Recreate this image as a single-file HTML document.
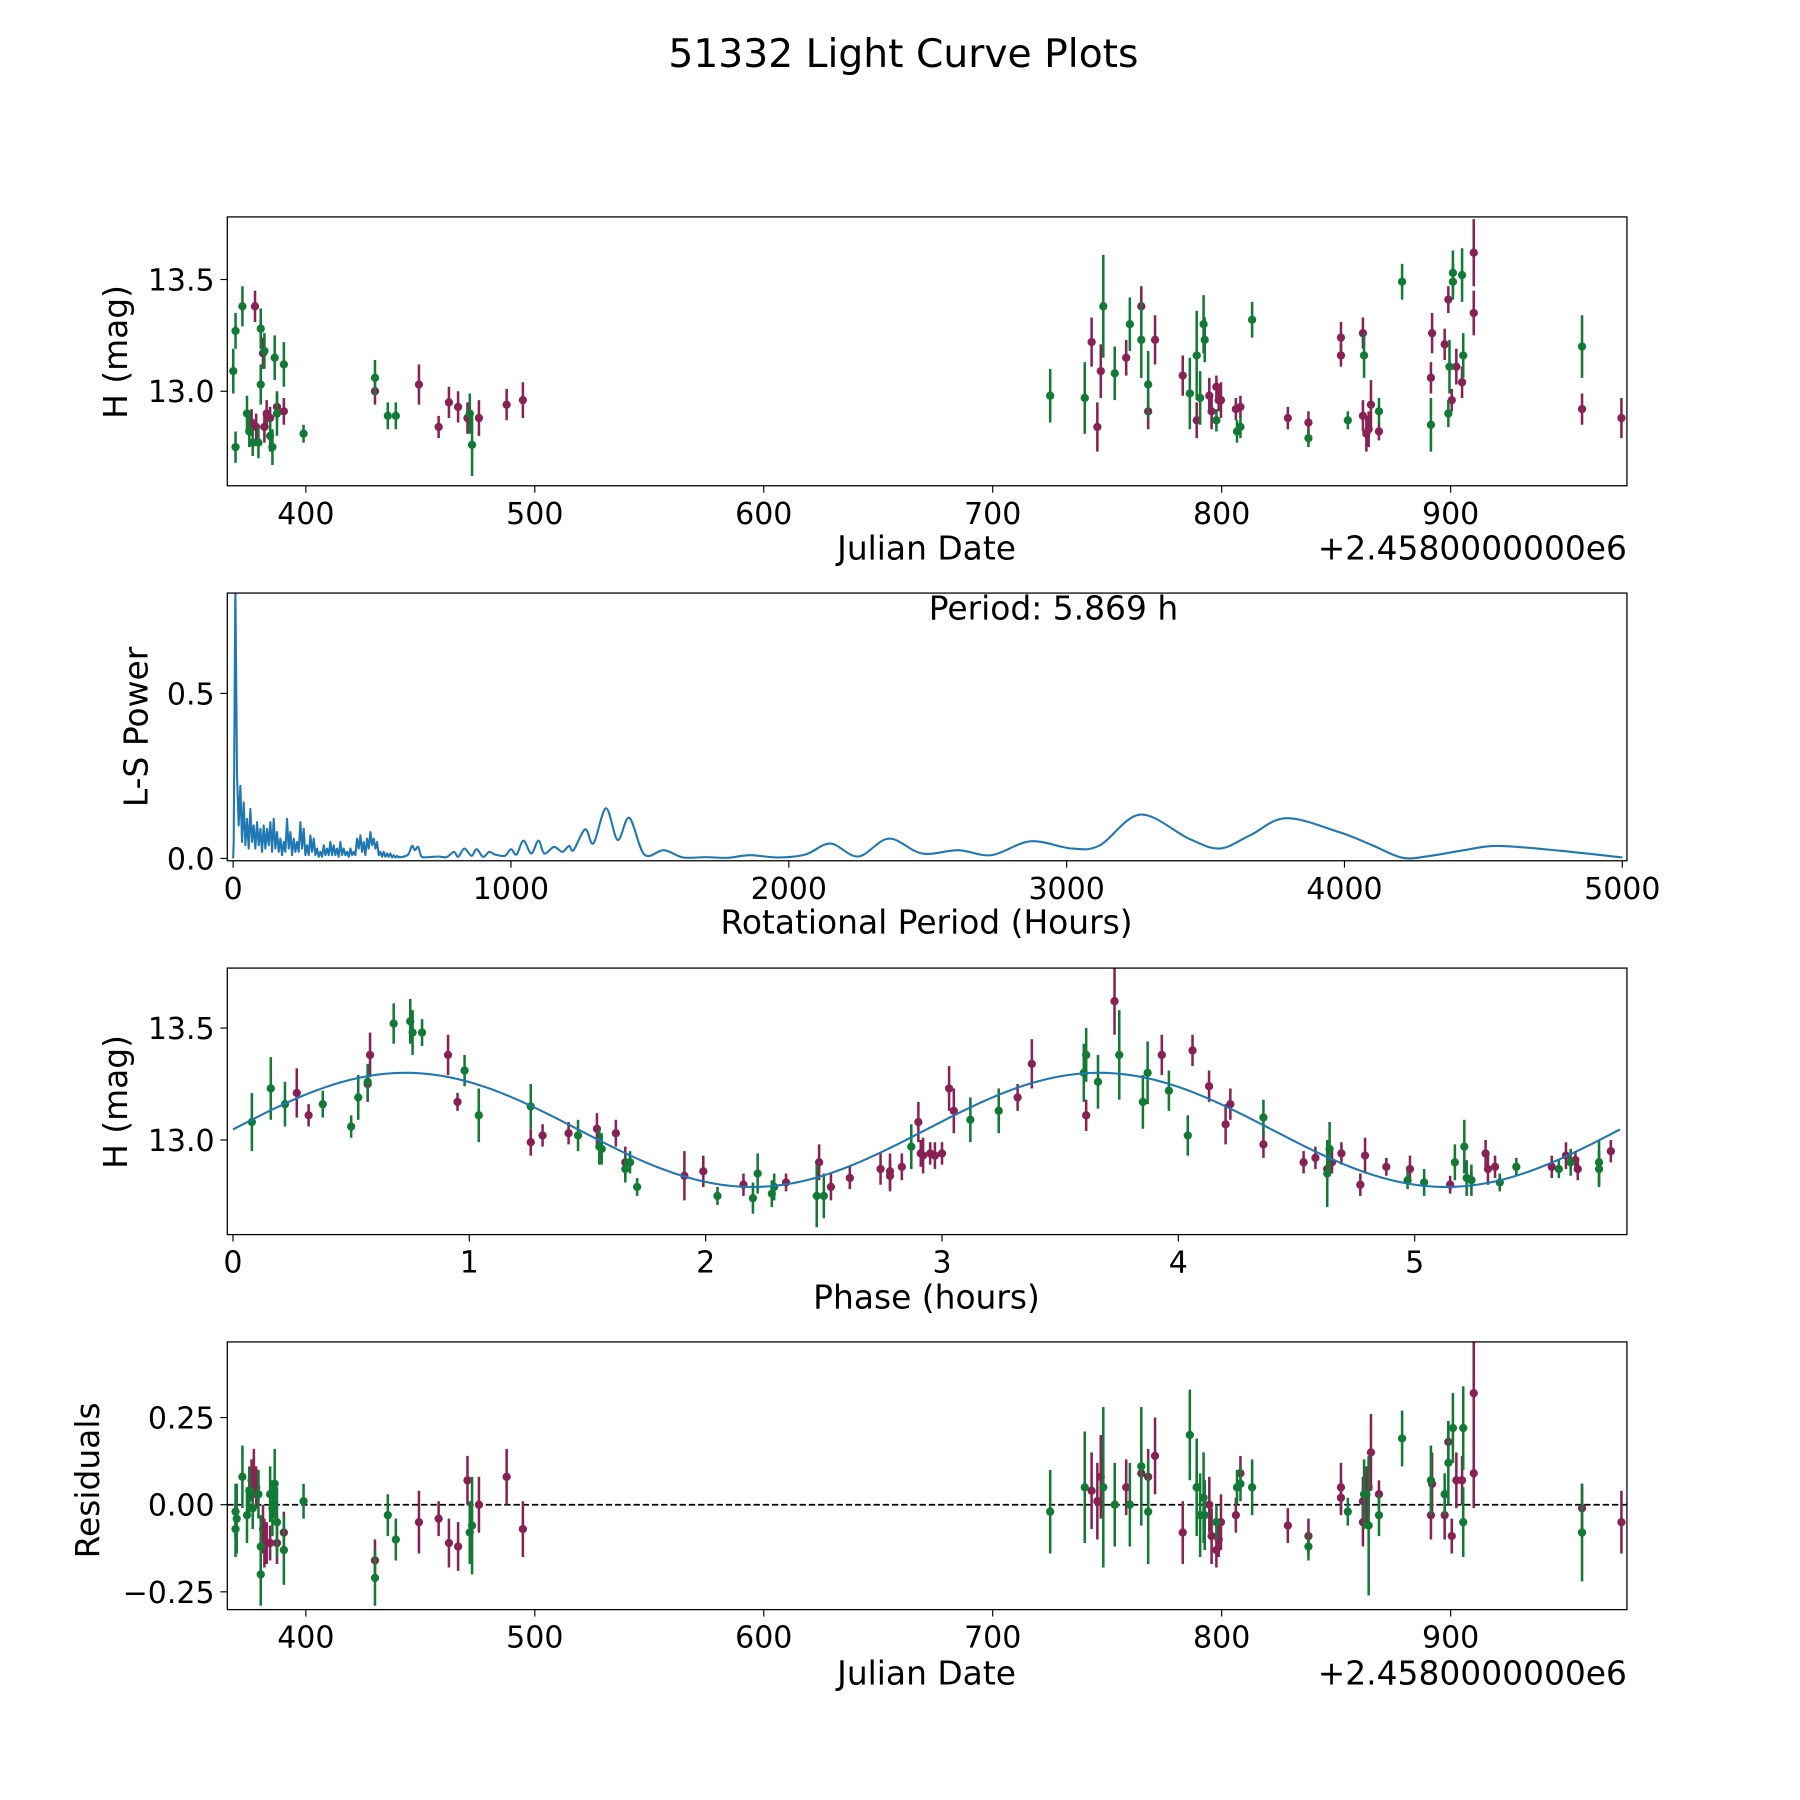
<!DOCTYPE html>
<html><head><meta charset="utf-8"><style>
html,body{margin:0;padding:0;background:#fff}
svg{display:block;font-family:"DejaVu Sans","Liberation Sans",sans-serif}
</style></head><body>
<svg id="fig" width="1800" height="1800" viewBox="0 0 1560 1560" xmlns="http://www.w3.org/2000/svg">
<rect width="1560" height="1560" fill="#fff"/>
<text x="783" y="58" font-size="34" text-anchor="middle">51332 Light Curve Plots</text>
</svg>
<script>
// ---------- Panel 1: light curve (date, mag, err) ----------
const lcGreen=[[369.3,12.75,0.07],[369.3,13.27,0.08],[368.3,13.09,0.1],[372.3,13.38,0.09],[374.3,12.90,0.08],[375.3,12.82,0.07],[376.8,12.77,0.06],[379.3,12.77,0.07],[380.3,13.28,0.09],[380.3,13.03,0.09],[381.9,13.18,0.08],[384.4,12.80,0.07],[385.4,12.75,0.08],[386.4,13.15,0.1],[387.4,12.90,0.1],[390.4,13.12,0.1],[399.0,12.81,0.04],[430.2,13.06,0.08],[435.8,12.89,0.06],[439.3,12.89,0.06],[471.6,12.90,0.09],[472.6,12.76,0.14],[725.1,12.98,0.12],[740.2,12.97,0.16],[748.3,13.38,0.23],[753.3,13.08,0.12],[759.9,13.30,0.12],[764.9,13.23,0.17],[767.9,13.03,0.15],[786.1,12.99,0.16],[789.1,13.16,0.2],[790.6,12.97,0.12],[792.1,13.30,0.13],[792.6,13.23,0.1],[797.7,12.87,0.05],[806.7,12.82,0.05],[808.2,12.84,0.05],[813.3,13.32,0.08],[837.9,12.79,0.04],[855.1,12.87,0.04],[862.2,13.16,0.1],[868.7,12.91,0.06],[878.8,13.49,0.08],[891.4,12.85,0.12],[899.0,12.90,0.06],[899.5,13.11,0.12],[901.0,13.49,0.08],[901.0,13.53,0.1],[905.5,13.16,0.1],[905.0,13.52,0.12],[957.4,13.20,0.14]];
const lcMag=[[376.3,12.86,0.06],[377.8,13.38,0.07],[378.3,12.84,0.06],[381.3,13.17,0.07],[381.9,12.84,0.07],[382.9,12.90,0.06],[384.4,12.88,0.05],[387.4,12.93,0.06],[390.4,12.91,0.06],[430.2,13.00,0.06],[449.4,13.03,0.09],[458.0,12.84,0.05],[462.5,12.95,0.07],[466.5,12.93,0.07],[470.6,12.88,0.07],[475.6,12.88,0.08],[487.7,12.94,0.07],[494.8,12.96,0.08],[743.2,13.22,0.11],[745.7,12.84,0.11],[747.2,13.09,0.12],[758.3,13.15,0.08],[764.9,13.38,0.09],[767.9,12.91,0.08],[770.9,13.23,0.11],[783.0,13.07,0.09],[789.1,12.87,0.08],[794.6,12.98,0.08],[795.6,12.91,0.08],[797.7,13.02,0.05],[798.7,12.96,0.05],[799.7,12.96,0.08],[806.2,12.92,0.05],[808.2,12.93,0.05],[828.9,12.88,0.05],[837.9,12.86,0.05],[852.1,13.24,0.07],[852.1,13.16,0.05],[861.7,12.89,0.07],[861.7,13.26,0.07],[863.2,12.81,0.08],[864.2,12.83,0.08],[865.2,12.94,0.11],[868.7,12.82,0.04],[891.9,13.26,0.09],[891.4,13.06,0.07],[897.4,13.21,0.07],[899.0,13.41,0.06],[900.5,12.96,0.05],[902.5,13.11,0.08],[905.0,13.04,0.07],[910.1,13.35,0.1],[910.1,13.62,0.15],[957.4,12.92,0.07],[974.6,12.88,0.09]];
// ---------- Panel 2: periodogram ----------
const noisyPeriodStart=2, noisyPeriodStep=6;
const noisyPower=[0.05,0.83,0.25,0.1,0.22,0.05,0.17,0.04,0.12,0.03,0.15,0.05,0.10,0.03,0.11,0.04,0.09,0.02,0.10,0.03,0.09,0.04,0.11,0.02,0.12,0.03,0.08,0.02,0.06,0.01,0.05,0.02,0.12,0.03,0.08,0.01,0.06,0.02,0.05,0.02,0.11,0.03,0.09,0.01,0.04,0.01,0.07,0.02,0.06,0.01,0.03,0.005,0.02,0.005,0.04,0.01,0.03,0.01,0.05,0.01,0.04,0.01,0.03,0.005,0.05,0.01,0.03,0.01,0.02,0.005,0.03,0.01,0.02,0.01,0.06,0.03,0.07,0.02,0.05,0.01,0.06,0.03,0.08,0.04,0.06,0.03,0.05,0.01,0.02,0.005,0.02,0.005,0.015,0.005,0.015,0.003,0.01,0.003,0.008,0.003];
const smoothPeriod=[600,606,630,644,654,666,678,702,738,768,795,810,832,858,876,900,922,942,978,1000,1020,1045,1073,1099,1120,1155,1185,1209,1225,1267,1297,1342,1384,1426,1480,1550,1620,1700,1780,1860,1960,2060,2150,2250,2360,2480,2610,2730,2870,3020,3120,3265,3440,3550,3660,3790,3980,4100,4210,4310,4430,4550,4770,5000];
const smoothPower=[0.005,0.004,0.012,0.038,0.025,0.035,0.006,0.004,0.006,0.004,0.02,0.005,0.03,0.008,0.028,0.005,0.02,0.012,0.008,0.028,0.012,0.054,0.015,0.054,0.015,0.035,0.02,0.038,0.025,0.088,0.046,0.152,0.056,0.123,0.012,0.025,0.003,0.004,0.002,0.01,0.003,0.012,0.045,0.006,0.06,0.015,0.025,0.01,0.052,0.03,0.04,0.133,0.06,0.03,0.07,0.122,0.08,0.04,0.002,0.008,0.025,0.038,0.024,0.003];
// ---------- Panel 3: phased (phase, mag, err) ----------
const phGreen=[[0.08,13.08,0.13],[0.16,13.23,0.14],[0.22,13.16,0.1],[0.38,13.16,0.06],[0.50,13.06,0.05],[0.53,13.19,0.1],[0.57,13.26,0.08],[0.68,13.52,0.09],[0.75,13.53,0.1],[0.76,13.48,0.1],[0.80,13.48,0.06],[0.98,13.31,0.07],[1.04,13.11,0.12],[1.26,13.15,0.1],[1.46,13.02,0.07],[1.55,12.97,0.08],[1.56,12.96,0.07],[1.66,12.87,0.06],[1.68,12.90,0.05],[1.71,12.79,0.04],[2.05,12.75,0.04],[2.20,12.74,0.07],[2.22,12.85,0.09],[2.28,12.76,0.06],[2.29,12.79,0.06],[2.47,12.75,0.14],[2.50,12.75,0.1],[2.87,12.97,0.1],[3.12,13.09,0.1],[3.24,13.13,0.1],[3.60,13.30,0.13],[3.61,13.38,0.12],[3.66,13.26,0.12],[3.75,13.38,0.2],[3.85,13.17,0.12],[3.87,13.30,0.14],[3.96,13.22,0.09],[4.04,13.02,0.09],[4.36,13.10,0.08],[4.63,12.85,0.15],[4.64,12.96,0.12],[4.97,12.82,0.04],[5.04,12.81,0.06],[5.17,12.90,0.08],[5.21,12.97,0.12],[5.22,12.83,0.08],[5.24,12.82,0.07],[5.36,12.81,0.04],[5.43,12.88,0.04],[5.61,12.87,0.04],[5.66,12.90,0.06],[5.78,12.90,0.1],[5.78,12.87,0.08]];
const phMag=[[0.27,13.21,0.11],[0.32,13.11,0.05],[0.58,13.38,0.1],[0.57,13.25,0.08],[0.91,13.38,0.09],[0.95,13.17,0.04],[1.26,12.99,0.06],[1.31,13.02,0.05],[1.42,13.03,0.05],[1.54,13.05,0.07],[1.62,13.03,0.06],[1.66,12.90,0.07],[1.91,12.84,0.11],[1.99,12.86,0.07],[2.16,12.80,0.05],[2.34,12.81,0.04],[2.48,12.90,0.08],[2.53,12.79,0.06],[2.61,12.83,0.05],[2.74,12.87,0.07],[2.78,12.84,0.07],[2.78,12.86,0.08],[2.83,12.88,0.06],[2.90,13.08,0.09],[2.91,12.94,0.06],[2.92,12.93,0.08],[2.95,12.94,0.05],[2.97,12.93,0.06],[3.00,12.94,0.05],[3.03,13.23,0.1],[3.05,13.13,0.1],[3.32,13.19,0.06],[3.38,13.34,0.11],[3.61,13.11,0.07],[3.73,13.62,0.15],[3.93,13.38,0.09],[4.06,13.40,0.07],[4.13,13.24,0.07],[4.20,13.07,0.09],[4.22,13.16,0.07],[4.36,12.98,0.06],[4.53,12.90,0.05],[4.58,12.92,0.05],[4.63,12.87,0.05],[4.65,12.90,0.05],[4.69,12.94,0.05],[4.77,12.80,0.05],[4.79,12.93,0.08],[4.88,12.88,0.04],[4.98,12.87,0.06],[5.15,12.80,0.04],[5.24,12.82,0.04],[5.30,12.94,0.06],[5.31,12.87,0.07],[5.34,12.88,0.05],[5.58,12.88,0.05],[5.64,12.93,0.06],[5.68,12.91,0.04],[5.69,12.87,0.05],[5.83,12.95,0.05]];
const fitMean=13.045, fitAmp=0.255, fitPeakPhase=0.73, fitHalfPeriod=2.9345, fitPhaseMax=5.869;
// ---------- Panel 4: residuals (date, resid, err) ----------
const resGreen=[[369.3,-0.02,0.08],[369.3,-0.07,0.08],[369.8,-0.04,0.1],[372.3,0.08,0.09],[374.3,-0.03,0.08],[375.3,0.04,0.07],[376.8,-0.01,0.06],[379.3,0.03,0.07],[380.3,-0.20,0.09],[380.3,-0.12,0.09],[384.4,0.03,0.08],[385.4,-0.01,0.08],[386.4,0.06,0.1],[387.4,-0.05,0.1],[390.4,-0.13,0.1],[399.0,0.01,0.05],[430.2,-0.21,0.08],[435.8,-0.03,0.06],[439.3,-0.10,0.06],[471.6,-0.08,0.09],[472.6,-0.06,0.14],[725.1,-0.02,0.12],[740.2,0.05,0.16],[748.3,0.05,0.23],[753.3,0.00,0.12],[759.9,0.00,0.12],[764.9,0.11,0.17],[767.9,-0.02,0.15],[786.1,0.20,0.13],[789.1,0.05,0.14],[790.6,-0.03,0.12],[792.1,0.02,0.13],[792.6,-0.03,0.1],[797.7,-0.05,0.05],[806.7,0.05,0.05],[808.2,0.06,0.05],[813.3,0.05,0.08],[837.9,-0.12,0.04],[855.1,-0.02,0.04],[862.2,0.03,0.1],[864.2,-0.06,0.2],[868.7,-0.03,0.06],[878.8,0.19,0.08],[891.4,0.07,0.1],[897.4,0.03,0.06],[899.0,0.12,0.12],[901.0,0.22,0.1],[905.5,0.22,0.12],[905.5,-0.05,0.1],[957.4,-0.08,0.14]];
const resMag=[[376.3,0.07,0.06],[377.3,0.09,0.07],[378.3,0.05,0.06],[381.3,-0.07,0.07],[381.9,-0.11,0.07],[382.9,-0.11,0.06],[384.4,-0.11,0.05],[387.4,-0.11,0.06],[390.4,-0.08,0.06],[430.2,-0.16,0.06],[449.4,-0.05,0.09],[458.0,-0.04,0.05],[462.5,-0.11,0.07],[466.5,-0.12,0.07],[470.6,0.07,0.07],[475.6,0.00,0.08],[487.7,0.08,0.08],[494.8,-0.07,0.08],[743.2,0.04,0.11],[745.7,0.01,0.11],[747.2,0.08,0.12],[758.3,0.05,0.08],[764.9,0.09,0.09],[767.9,0.08,0.08],[770.9,0.14,0.11],[783.0,-0.08,0.09],[789.1,0.05,0.08],[794.6,0.00,0.08],[795.6,-0.09,0.08],[797.7,-0.13,0.05],[798.7,-0.10,0.05],[799.7,-0.05,0.08],[806.2,-0.03,0.05],[808.2,0.09,0.05],[828.9,-0.06,0.05],[837.9,-0.09,0.05],[852.1,0.05,0.07],[852.1,0.02,0.05],[861.7,0.01,0.07],[861.7,-0.05,0.07],[863.2,0.03,0.08],[864.2,0.05,0.08],[865.2,0.15,0.11],[868.7,0.03,0.04],[891.9,0.06,0.09],[891.4,-0.03,0.07],[897.4,-0.03,0.07],[899.0,0.18,0.06],[900.5,-0.09,0.05],[902.5,0.07,0.08],[905.0,0.07,0.07],[910.1,0.32,0.15],[910.1,0.09,0.1],[957.4,-0.01,0.07],[974.6,-0.05,0.09]];
// ---------- tick definitions ----------
const dateTicks=[400,500,600,700,800,900];
const magTicks=[13.0,13.5];
const perTicks=[0,1000,2000,3000,4000,5000];
const powTicks=[0.0,0.5];
const phaseTicks=[0,1,2,3,4,5];
const resTicks=[-0.25,0.0,0.25];

const NS="http://www.w3.org/2000/svg";
const fig=document.getElementById('fig');
const GREEN="#127a35", MAG="#882255", BLUE="#1f77b4";
const TICKFS=26, LABELFS=28.5;
function mk(tag,attrs,parent){const e=document.createElementNS(NS,tag);for(const k in attrs)e.setAttribute(k,attrs[k]);(parent||fig).appendChild(e);return e;}
function scale(d0,d1,r0,r1){return v=>r0+(v-d0)/(d1-d0)*(r1-r0);}

function axes(name,box,xd,yd,xt,xfmt,yt,yfmt){
  const g=mk('g',{});
  
  
  const sx=scale(xd[0],xd[1],box.l,box.r), sy=scale(yd[0],yd[1],box.b,box.t);
  const plot=mk('g',{},g);
  
  
  const clipId=name+'-clip';
  const cp=mk('clipPath',{id:clipId},g);
  mk('rect',{x:box.l,y:box.t,width:box.r-box.l,height:box.b-box.t},cp);
  plot.setAttribute('clip-path','url(#'+clipId+')');
  xt.forEach(v=>{const x=sx(v);
    const t=mk('line',{x1:x,x2:x,y1:box.b,y2:box.b+6,stroke:'#000','stroke-width':1},g);
    
    
    const l=mk('text',{x:x,y:box.b+33,'font-size':TICKFS,'text-anchor':'middle'},g);
    
    
    l.textContent=xfmt(v);});
  yt.forEach(v=>{const y=sy(v);
    const t=mk('line',{x1:box.l-6,x2:box.l,y1:y,y2:y,stroke:'#000','stroke-width':1},g);
    
    
    const l=mk('text',{x:box.l-11,y:y+9.5,'font-size':TICKFS,'text-anchor':'end'},g);
    
    
    l.textContent=yfmt(v);});
  const fr=mk('rect',{x:box.l,y:box.t,width:box.r-box.l,height:box.b-box.t,fill:'none',stroke:'#000','stroke-width':1.1},g);
  
  
  return {sx,sy,plot,g};
}
function label(txt,x,y,rot,name){
  const t=mk('text',{x:x,y:y,'font-size':LABELFS,'text-anchor':'middle'});
  if(rot)t.setAttribute('transform','rotate(-90 '+x+' '+y+')');
  
  
  t.textContent=txt;
}
function errPts(ax,pts,color,name){
  pts.forEach(p=>{
    const x=ax.sx(p[0]), y=ax.sy(p[1]);
    const gp=mk('g',{},ax.plot);
    
    
    mk('line',{x1:x,x2:x,y1:ax.sy(p[1]-p[2]),y2:ax.sy(p[1]+p[2]),stroke:color,'stroke-width':2.2},gp);
    mk('circle',{cx:x,cy:y,r:3.6,fill:color},gp);
  });
}
const f1=v=>v.toFixed(1), f0=v=>String(v), f2=v=>(v<0?'\u2212':'')+Math.abs(v).toFixed(2);

// Panel 1
const a1=axes('light-curve-panel',{l:197,r:1410,t:188,b:421},[365.7,977],[12.577,13.78],dateTicks,f0,magTicks,f1);
errPts(a1,lcMag,MAG,'magenta-observation');
errPts(a1,lcGreen,GREEN,'green-observation');
label('H (mag)',110,305,true,'light-curve-y-axis-title');
label('Julian Date',803,485,false,'light-curve-x-axis-title');
(function(){const t=mk('text',{x:1410,y:485,'font-size':LABELFS,'text-anchor':'end'});


t.textContent='+2.4580000000e6';})();

// Panel 2
const a2=axes('periodogram-panel',{l:197,r:1410,t:514,b:746},[-21,5000+4/0.2408],[-0.007,0.804],perTicks,f0,powTicks,f1);
(function(){
  let d='M'+a2.sx(0)+','+a2.sy(0);
  noisyPower.forEach((p,i)=>{d+=' L'+a2.sx(noisyPeriodStart+i*noisyPeriodStep).toFixed(2)+','+a2.sy(p).toFixed(2);});
  const pts=smoothPeriod.map((p,i)=>[a2.sx(p),a2.sy(smoothPower[i])]);
  d+=' L'+pts[0][0]+','+pts[0][1];
  for(let i=0;i<pts.length-1;i++){
    const p0=pts[Math.max(0,i-1)],p1=pts[i],p2=pts[i+1],p3=pts[Math.min(pts.length-1,i+2)];
    const c1=[p1[0]+(p2[0]-p0[0])/6,p1[1]+(p2[1]-p0[1])/6], c2=[p2[0]-(p3[0]-p1[0])/6,p2[1]-(p3[1]-p1[1])/6];
    d+=' C'+c1[0].toFixed(2)+','+c1[1].toFixed(2)+' '+c2[0].toFixed(2)+','+c2[1].toFixed(2)+' '+p2[0].toFixed(2)+','+p2[1].toFixed(2);
  }
  const path=mk('path',{d:d,fill:'none',stroke:BLUE,'stroke-width':1.8,'stroke-linejoin':'round'},a2.plot);
  
  
})();
label('L-S Power',128,630,true,'periodogram-y-axis-title');
label('Rotational Period (Hours)',803,809,false,'periodogram-x-axis-title');
(function(){const t=mk('text',{x:913,y:537,'font-size':LABELFS,'text-anchor':'middle'});


t.textContent='Period: 5.869 h';})();

// Panel 3
const a3=axes('phase-panel',{l:197,r:1410,t:839,b:1070},[-0.024,5.898],[12.577,13.768],phaseTicks,f0,magTicks,f1);
errPts(a3,phMag,MAG,'magenta-phased-observation');
errPts(a3,phGreen,GREEN,'green-phased-observation');
(function(){
  let d='';
  for(let i=0;i<=300;i++){const p=fitPhaseMax*i/300;
    const m=fitMean+fitAmp*Math.cos(2*Math.PI*(p-fitPeakPhase)/fitHalfPeriod);
    d+=(i?' L':'M')+a3.sx(p).toFixed(2)+','+a3.sy(m).toFixed(2);}
  const path=mk('path',{d:d,fill:'none',stroke:BLUE,'stroke-width':1.8},a3.plot);
  
  
})();
label('H (mag)',110,955,true,'phase-y-axis-title');
label('Phase (hours)',803,1134,false,'phase-x-axis-title');

// Panel 4
const a4=axes('residuals-panel',{l:197,r:1410,t:1163,b:1395},[365.7,977],[-0.301,0.467],dateTicks,f0,resTicks,f2);
(function(){const y=a4.sy(0);
const l=mk('line',{x1:197,x2:1410,y1:y,y2:y,stroke:'#000','stroke-width':1.5,'stroke-dasharray':'5.5,2.5'},a4.plot);

})();
errPts(a4,resMag,MAG,'magenta-residual');
errPts(a4,resGreen,GREEN,'green-residual');
label('Residuals',86,1283,true,'residuals-y-axis-title');
label('Julian Date',803,1460,false,'residuals-x-axis-title');
(function(){const t=mk('text',{x:1410,y:1460,'font-size':LABELFS,'text-anchor':'end'});


t.textContent='+2.4580000000e6';})();
</script>
</body></html>
